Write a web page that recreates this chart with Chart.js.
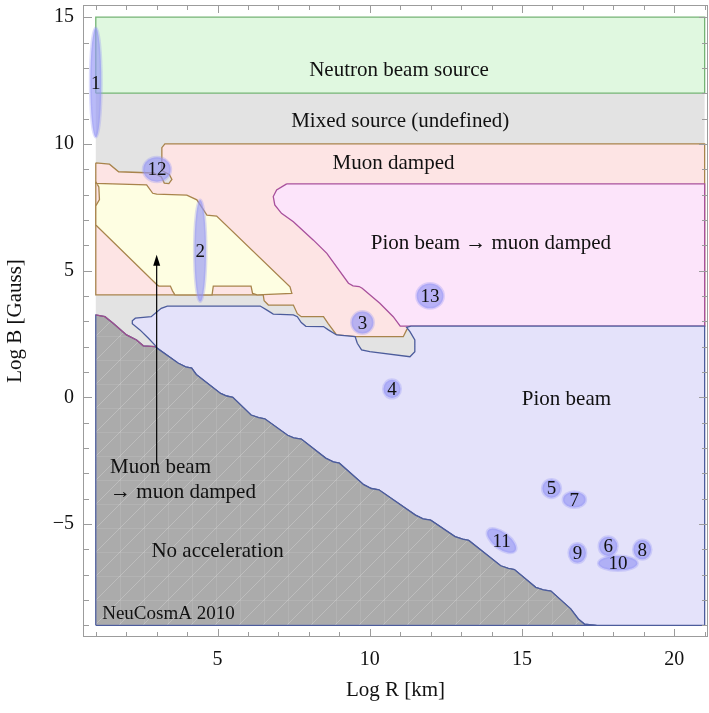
<!DOCTYPE html>
<html>
<head>
<meta charset="utf-8">
<script src="https://cdn.jsdelivr.net/npm/chart.js@4.4.1/dist/chart.umd.min.js"></script>
<style>
  html, body { margin: 0; padding: 0; background: #fff; }
</style>
</head>
<body>
<canvas id="chart" width="709" height="713"></canvas>
<script>
// axis ticks
const xTickValues = [5, 10, 15, 20];
const yTickValues = [-5, 0, 5, 10, 15];

// region outlines, [log R, log B]
const mixedRegion = [[1, -9], [21, -9], [21, 12], [1, 12]];
const neutronRegion = [[1, 12], [21, 12], [21, 15], [1, 15]];
const muonDampedRegion = [
    [1, 9.25], [1.45, 9.2], [1.75, 8.9], [2.9, 8.85], [3.15, 8.7], [3.25, 8.45], [3.4, 8.43],
    [3.5, 8.6], [3.42, 8.78], [3.17, 8.95], [3.17, 9.85], [3.27, 10], [21, 10], [21, 2.81],
    [11.3, 2.81], [11.21, 2.66], [11.1, 2.39], [9.52, 2.39], [8.91, 2.46], [8.64, 2.9],
    [8.48, 3.18], [7.75, 3.18], [7.62, 3.3], [7.49, 3.64], [6.67, 3.64], [6.53, 3.81],
    [6.5, 4.04], [1, 4.04]
];
const pionMuonDampedRegion = [
    [7.27, 8.42], [21, 8.42], [21, 2.81], [11.0, 2.81], [10.77, 3.18], [10.33, 3.71],
    [9.75, 4.3], [9.65, 4.37], [9.45, 4.4], [9.3, 4.5], [8.59, 5.68], [8.14, 6.21],
    [7.49, 6.93], [7.1, 7.26], [6.88, 7.59], [6.83, 7.92], [6.94, 8.18]
];
const muonBeamRegion = [
    [1, 8.5], [1.1, 8.3], [1.12, 7.8], [1, 7.55], [1, 6.8], [3.0, 4.45], [3.07, 4.39],
    [3.45, 4.39], [3.52, 4.2], [3.6, 4.04], [4.82, 4.04], [4.86, 4.39], [6.1, 4.39],
    [6.15, 4.1], [6.3, 4.04], [7.44, 4.1], [7.38, 4.36], [4.97, 7.15], [4.65, 7.19],
    [4.32, 7.79], [3.99, 7.98], [3.0, 8.02], [2.87, 8.05], [2.67, 8.38], [1, 8.44]
];
// lower edge of acceleration, shared by pion beam / no acceleration
const accelEdge = [
    [3.0, 1.95], [3.7, 1.35], [3.95, 1.2], [4.15, 1.15], [4.3, 0.9], [5.1, 0.15], [5.3, 0.05],
    [5.5, 0], [6.1, -0.7], [6.35, -0.8], [6.55, -0.85], [7.3, -1.5], [7.5, -1.6], [7.75, -1.65],
    [8.55, -2.4], [8.8, -2.55], [9.0, -2.6], [9.8, -3.45], [10.05, -3.6], [10.3, -3.65],
    [11.5, -4.65], [11.75, -4.8], [12.0, -4.85], [12.8, -5.5], [13.05, -5.6], [13.25, -5.65],
    [14.3, -6.65], [14.55, -6.75], [14.75, -6.8], [15.45, -7.5], [15.7, -7.6], [15.95, -7.65],
    [16.6, -8.35], [16.85, -8.75], [17.05, -8.95], [17.45, -9.0]
];
const pionBeamTop = [
    [2.95, 2.05], [2.73, 2.33], [2.45, 2.66], [2.2, 2.9], [2.2, 3.02], [2.3, 3.12], [2.82, 3.18],
    [3.15, 3.51], [3.35, 3.6], [6.4, 3.6], [6.61, 3.45], [6.83, 3.28], [7.49, 3.25], [7.62, 3.18],
    [7.75, 2.95], [7.9, 2.8], [8.48, 2.79], [8.64, 2.66], [8.91, 2.46], [9.52, 2.39], [9.59, 2.13],
    [9.73, 1.87], [10.0, 1.8], [11.32, 1.6], [11.48, 1.8], [11.48, 2.26], [11.32, 2.59],
    [11.21, 2.76], [11.35, 2.81], [21, 2.81], [21, -9]
];
const noAccelTop = [
    [1, -9], [1, 3.25], [1.3, 3.18], [1.57, 2.92], [2.01, 2.46], [2.34, 2.26], [2.56, 2.03], [2.95, 2.0]
];

// sources
const sourceIds = ['1', '2', '3', '4', '5', '6', '7', '8', '9', '10', '11', '12', '13'];
const sourceLogR = [1.0, 4.43, 9.76, 10.73, 15.97, 17.83, 16.72, 18.95, 16.82, 18.15, 14.33, 3.01, 11.98];
const sourceLogB = [12.42, 5.78, 2.95, 0.33, -3.6, -5.88, -4.04, -6.01, -6.15, -6.55, -5.66, 8.99, 4.0];
const sourceSpreadR = [0.18, 0.19, 0.36, 0.28, 0.3, 0.3, 0.37, 0.29, 0.28, 0.64, 0.56, 0.45, 0.44];
const sourceSpreadB = [2.15, 2.0, 0.43, 0.36, 0.36, 0.38, 0.31, 0.38, 0.38, 0.29, 0.32, 0.48, 0.49];
const sourceTilt = [0, 0, 0, 0, 0, 0, 0, 0, 0, 0, 37, 0, 0];

// region names
const regionNames = ['Neutron beam source', 'Mixed source (undefined)', 'Muon damped',
    'Pion beam \u2192 muon damped', 'Pion beam', 'Muon beam', '\u2192 muon damped',
    'No acceleration', 'NeuCosmA 2010'];
const regionNameR = [10.96, 11.0, 10.78, 13.98, 16.46, 1.47, 1.47, 5.0, 1.21];
const regionNameB = [12.92, 10.94, 9.25, 6.09, -0.03, -2.75, -3.7, -6.03, -8.52];
const regionNameAlign = ['center', 'center', 'center', 'center', 'center', 'left', 'left', 'center', 'left'];

const arrowFrom = [3.0, -2.68];
const arrowTo = [3.0, 5.62];

const serif = "'Liberation Serif', 'DejaVu Serif', serif";

function toPoints(list) {
    const pts = list.map(([x, y]) => ({ x, y }));
    pts.push({ ...pts[0] });
    return pts;
}

function region(list, fill, line, order) {
    return {
        data: toPoints(list),
        showLine: true,
        fill: 'shape',
        backgroundColor: fill,
        borderColor: line,
        borderWidth: 1.3,
        pointRadius: 0,
        tension: 0,
        order: order
    };
}

// faint mesh texture like the original rendering
function meshPattern(base) {
    const c = document.createElement('canvas');
    c.width = 24; c.height = 24;
    const g = c.getContext('2d');
    g.fillStyle = base;
    g.fillRect(0, 0, 24, 24);
    g.strokeStyle = 'rgba(255,255,255,0.22)';
    g.lineWidth = 1;
    g.beginPath();
    g.moveTo(0, 24); g.lineTo(24, 0);
    g.moveTo(-12, 12); g.lineTo(12, -12);
    g.moveTo(12, 36); g.lineTo(36, 12);
    g.stroke();
    g.strokeStyle = 'rgba(255,255,255,0.1)';
    g.beginPath();
    g.moveTo(0.5, 0); g.lineTo(0.5, 24);
    g.moveTo(0, 0.5); g.lineTo(24, 0.5);
    g.stroke();
    return g.createPattern(c, 'repeat');
}

const frameTicks = {
    id: 'frameTicks',
    afterDraw(chart) {
        const { ctx, chartArea: a, scales: { x, y } } = chart;
        ctx.save();
        ctx.strokeStyle = '#9c9c9c';
        ctx.lineWidth = 1;
        ctx.strokeRect(a.left + 0.5, a.top + 0.5, a.right - a.left - 1, a.bottom - a.top - 1);
        ctx.beginPath();
        for (let v = 1; v <= 21; v++) {
            const px = Math.round(x.getPixelForValue(v)) + 0.5;
            const len = v % 5 === 0 ? 8 : 5;
            ctx.moveTo(px, a.bottom); ctx.lineTo(px, a.bottom - len);
            ctx.moveTo(px, a.top); ctx.lineTo(px, a.top + len);
        }
        for (let v = -9; v <= 15; v++) {
            const py = Math.round(y.getPixelForValue(v)) + 0.5;
            const len = v % 5 === 0 ? 9 : 6;
            ctx.moveTo(a.left, py); ctx.lineTo(a.left + len, py);
            ctx.moveTo(a.right, py); ctx.lineTo(a.right - len, py);
        }
        ctx.stroke();
        ctx.restore();
    }
};

const annotations = {
    id: 'annotations',
    afterDatasetsDraw(chart) {
        const { ctx, scales: { x, y } } = chart;
        ctx.save();
        // purple edge where no acceleration meets the mixed region
        ctx.strokeStyle = '#a0508c';
        ctx.lineWidth = 1.3;
        ctx.beginPath();
        noAccelTop.slice(1).forEach(([r, b], i) => {
            const px = x.getPixelForValue(r), py = y.getPixelForValue(b);
            if (i === 0) ctx.moveTo(px, py); else ctx.lineTo(px, py);
        });
        ctx.stroke();

        // arrow
        const ax = x.getPixelForValue(arrowFrom[0]);
        const ay0 = y.getPixelForValue(arrowFrom[1]);
        const ay1 = y.getPixelForValue(arrowTo[1]);
        ctx.strokeStyle = '#000';
        ctx.fillStyle = '#000';
        ctx.lineWidth = 1.2;
        ctx.beginPath();
        ctx.moveTo(ax, ay0);
        ctx.lineTo(ax, ay1 + 8);
        ctx.stroke();
        ctx.beginPath();
        ctx.moveTo(ax, ay1);
        ctx.lineTo(ax - 3.5, ay1 + 11);
        ctx.lineTo(ax + 3.5, ay1 + 11);
        ctx.closePath();
        ctx.fill();

        // sources
        sourceIds.forEach((id, i) => {
            const cx = x.getPixelForValue(sourceLogR[i]);
            const cy = y.getPixelForValue(sourceLogB[i]);
            const rx = Math.abs(x.getPixelForValue(sourceLogR[i] + sourceSpreadR[i]) - cx);
            const ry = Math.abs(y.getPixelForValue(sourceLogB[i] + sourceSpreadB[i]) - cy);
            ctx.beginPath();
            ctx.ellipse(cx, cy, rx, ry, sourceTilt[i] * Math.PI / 180, 0, Math.PI * 2);
            ctx.fillStyle = 'rgba(148, 150, 245, 0.66)';
            ctx.fill();
            ctx.lineWidth = 3;
            ctx.strokeStyle = 'rgba(148, 150, 245, 0.32)';
            ctx.stroke();
        });
        ctx.fillStyle = '#111';
        ctx.font = '19px ' + serif;
        ctx.textAlign = 'center';
        ctx.textBaseline = 'middle';
        sourceIds.forEach((id, i) => {
            ctx.fillText(id, x.getPixelForValue(sourceLogR[i]), y.getPixelForValue(sourceLogB[i]) + 1);
        });

        // region names
        regionNames.forEach((name, i) => {
            ctx.font = (i === 8 ? '19px ' : '21px ') + serif;
            ctx.textAlign = regionNameAlign[i];
            ctx.fillText(name, x.getPixelForValue(regionNameR[i]), y.getPixelForValue(regionNameB[i]) + 1);
        });
        ctx.restore();
    }
};

new Chart(document.getElementById('chart'), {
    type: 'scatter',
    data: {
        datasets: [
            region(mixedRegion, '#e3e3e3', 'rgba(0,0,0,0)', 10),
            region(neutronRegion, '#e0f8e0', '#74b474', 9),
            region(muonDampedRegion, '#fde4e4', '#a8844c', 8),
            region(pionMuonDampedRegion, '#fce4fa', '#a8509c', 7),
            region(muonBeamRegion, '#fefee2', '#a8844c', 6),
            region(pionBeamTop.concat(accelEdge.slice().reverse()), '#e4e2fa', '#4c5c9c', 5),
            region(noAccelTop.concat(accelEdge), meshPattern('#ababab'), '#4c5c9c', 4)
        ]
    },
    options: {
        responsive: false,
        animation: false,
        layout: { padding: { top: 5, right: 1, left: 0, bottom: 0 } },
        plugins: { legend: { display: false }, tooltip: { enabled: false } },
        scales: {
            x: {
                type: 'linear',
                min: 0.58,
                max: 21.11,
                grid: { display: false, drawTicks: false },
                border: { display: false },
                afterBuildTicks: s => { s.ticks = xTickValues.map(v => ({ value: v })); },
                afterFit: s => { s.height = 76; s.paddingLeft = 0; s.paddingRight = 0; },
                ticks: { font: { family: serif, size: 20 }, color: '#111', padding: 11, maxRotation: 0, autoSkip: false },
                title: { display: true, text: 'Log R [km]', font: { family: serif, size: 21 }, color: '#111', padding: { top: 0, bottom: 10 } }
            },
            y: {
                type: 'linear',
                min: -9.46,
                max: 15.48,
                grid: { display: false, drawTicks: false },
                border: { display: false },
                afterBuildTicks: s => { s.ticks = yTickValues.map(v => ({ value: v })); },
                afterFit: s => { s.width = 83; s.paddingTop = 0; s.paddingBottom = 0; },
                ticks: {
                    font: { family: serif, size: 20 }, color: '#111', padding: 9, autoSkip: false,
                    callback: v => v < 0 ? '\u2212' + Math.abs(v) : String(v)
                },
                title: { display: true, text: 'Log B [Gauss]', font: { family: serif, size: 21 }, color: '#111', padding: { top: 3, bottom: 0 } }
            }
        }
    },
    plugins: [frameTicks, annotations]
});
</script>
</body>
</html>
